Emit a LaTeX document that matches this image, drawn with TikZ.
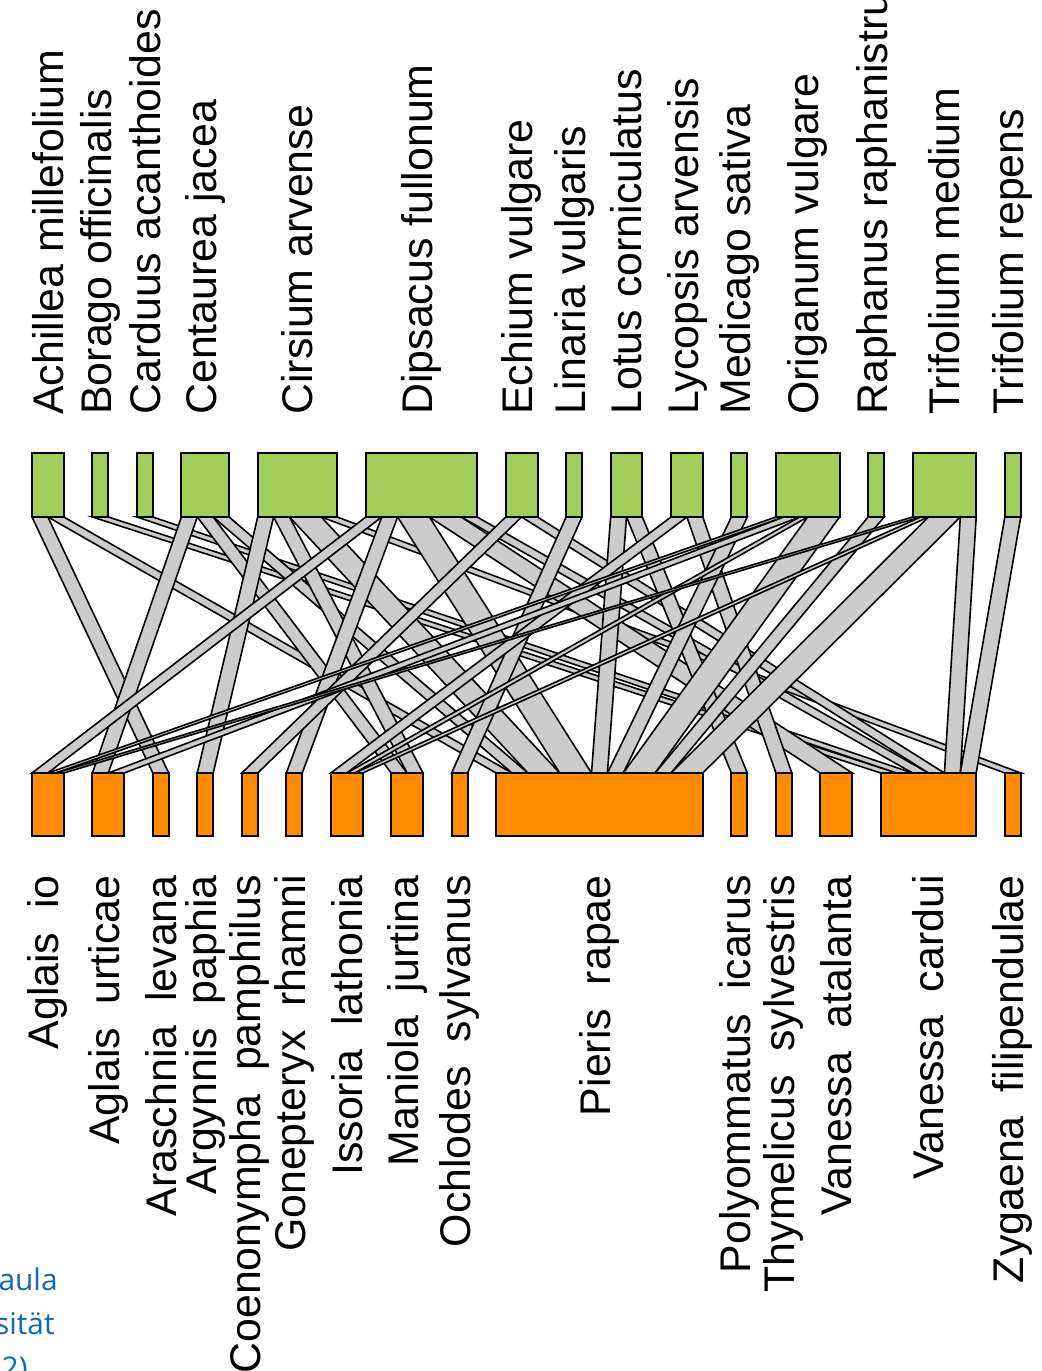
\documentclass[tikz,border=0pt]{standalone}
\usepackage{fontspec}
\setmainfont{Liberation Sans}
\newfontfamily\capfont{Open Sans}
\usetikzlibrary{positioning,calc,backgrounds}

\definecolor{plantgreen}{RGB}{162,205,90}
\definecolor{flyorange}{RGB}{255,140,0}
\definecolor{linkgray}{RGB}{204,204,204}
\definecolor{capblue}{RGB}{16,104,186}

% one interaction unit, in picture units
\newcommand{\hu}{7.95}
% link: plant, start, width, butterfly, start
\newcommand{\lnk}[5]{%
  \filldraw[link] ($(#1.south west)+(#2*\hu,0)$) -- ($(#1.south west)+(#2*\hu+#3*\hu,0)$)
    -- ($(#4.north west)+(#5*\hu+#3*\hu,0)$) -- ($(#4.north west)+(#5*\hu,0)$) -- cycle;}

\begin{document}
\begin{tikzpicture}
  [x=0.2mm, y=-0.2mm, node distance=5.72mm,
    plant/.style={%
      rectangle, draw, fill=plantgreen, line width=0.4mm,
      minimum width=#1*1.59mm, minimum height=12.8mm,
      inner sep=0, outer sep=0
    },
    fly/.style={%
      rectangle, draw, fill=flyorange, line width=0.4mm,
      minimum width=#1*1.59mm, minimum height=12.6mm,
      inner sep=0, outer sep=0
    },
    link/.style={%
      fill=linkgray, draw=black, line width=0.32mm
    },
    plantlab/.style={%
      rotate=90, anchor=west, inner sep=0,
      font=\fontsize{24.4}{29}\selectfont
    },
    flylab/.style={%
      rotate=90, anchor=east, inner sep=0,
      font=\fontsize{24.4}{29}\selectfont
    },
    caption/.style={%
      anchor=base east, inner sep=0, text=capblue,
      font=\capfont\fontsize{17}{20}\selectfont
    },
  ]
  \useasboundingbox (0,0) rectangle (1042,1371);

  % plants
  \node[plant=4, anchor=north west] (achil) at (32,453) {};
  \node[plant=2, right=of achil] (borag) {};
  \node[plant=2, right=of borag] (cardu) {};
  \node[plant=6, right=of cardu] (centa) {};
  \node[plant=10, right=of centa] (cirsi) {};
  \node[plant=14, right=of cirsi] (dipsa) {};
  \node[plant=4, right=of dipsa] (echiu) {};
  \node[plant=2, right=of echiu] (linar) {};
  \node[plant=4, right=of linar] (lotus) {};
  \node[plant=4, right=of lotus] (lycop) {};
  \node[plant=2, right=of lycop] (medic) {};
  \node[plant=8, right=of medic] (origa) {};
  \node[plant=2, right=of origa] (rapha) {};
  \node[plant=8, right=of rapha] (trmed) {};
  \node[plant=2, right=of trmed] (trrep) {};

  % butterflies
  \node[fly=4, anchor=north west] (aglio) at (32,773) {};
  \node[fly=4, right=of aglio] (aglur) {};
  \node[fly=2, right=of aglur] (arasc) {};
  \node[fly=2, right=of arasc] (argyn) {};
  \node[fly=2, right=of argyn] (coeno) {};
  \node[fly=2, right=of coeno] (gonep) {};
  \node[fly=4, right=of gonep] (issor) {};
  \node[fly=4, right=of issor] (manio) {};
  \node[fly=2, right=of manio] (ochlo) {};
  \node[fly=26, right=of ochlo] (pieri) {};
  \node[fly=2, right=of pieri] (polyo) {};
  \node[fly=2, right=of polyo] (thyme) {};
  \node[fly=4, right=of thyme] (vaata) {};
  \node[fly=12, right=of vaata] (vacar) {};
  \node[fly=2, right=of vacar] (zygae) {};

  \begin{scope}[on background layer]
    \fill[white] (0,0) rectangle (1042,1371);
    \lnk{achil}{0}{2}{arasc}{0}
    \lnk{achil}{2}{2}{pieri}{0}
    \lnk{borag}{0}{2}{vacar}{0}
    \lnk{cardu}{0}{2}{vacar}{2}
    \lnk{centa}{0}{2}{aglur}{0}
    \lnk{centa}{2}{2}{manio}{0}
    \lnk{centa}{4}{2}{pieri}{2}
    \lnk{cirsi}{0}{2}{argyn}{0}
    \lnk{cirsi}{2}{2}{manio}{2}
    \lnk{cirsi}{4}{4}{pieri}{4}
    \lnk{cirsi}{8}{2}{zygae}{0}
    \lnk{dipsa}{0}{2}{aglio}{0}
    \lnk{dipsa}{2}{2}{gonep}{0}
    \lnk{dipsa}{4}{4}{pieri}{8}
    \lnk{dipsa}{8}{4}{vaata}{0}
    \lnk{dipsa}{12}{2}{vacar}{4}
    \lnk{echiu}{0}{2}{coeno}{0}
    \lnk{echiu}{2}{2}{vacar}{6}
    \lnk{linar}{0}{2}{ochlo}{0}
    \lnk{lotus}{0}{2}{pieri}{12}
    \lnk{lotus}{2}{2}{polyo}{0}
    \lnk{lycop}{0}{2}{issor}{0}
    \lnk{lycop}{2}{2}{thyme}{0}
    \lnk{medic}{0}{2}{pieri}{14}
    \lnk{origa}{0}{1}{aglio}{2}
    \lnk{origa}{1}{2}{aglur}{2}
    \lnk{origa}{3}{1}{issor}{2}
    \lnk{origa}{4}{4}{pieri}{16}
    \lnk{rapha}{0}{2}{pieri}{20}
    \lnk{trmed}{0}{1}{aglio}{3}
    \lnk{trmed}{1}{1}{issor}{3}
    \lnk{trmed}{2}{4}{pieri}{22}
    \lnk{trmed}{6}{2}{vacar}{8}
    \lnk{trrep}{0}{2}{vacar}{10}
  \end{scope}

  % plant labels
  \node[plantlab] at ($(achil.north)+(0,-38)$) {Achillea millefolium};
  \node[plantlab] at ($(borag.north)+(0,-38)$) {Borago officinalis};
  \node[plantlab] at ($(cardu.north)+(0,-38)$) {Carduus acanthoides};
  \node[plantlab] at ($(centa.north)+(0,-38)$) {Centaurea jacea};
  \node[plantlab] at ($(cirsi.north)+(0,-38)$) {Cirsium arvense};
  \node[plantlab] at ($(dipsa.north)+(0,-38)$) {Dipsacus fullonum};
  \node[plantlab] at ($(echiu.north)+(0,-38)$) {Echium vulgare};
  \node[plantlab] at ($(linar.north)+(0,-38)$) {Linaria vulgaris};
  \node[plantlab] at ($(lotus.north)+(0,-38)$) {Lotus corniculatus};
  \node[plantlab] at ($(lycop.north)+(0,-38)$) {Lycopsis arvensis};
  \node[plantlab] at ($(medic.north)+(0,-38)$) {Medicago sativa};
  \node[plantlab] at ($(origa.north)+(0,-38)$) {Origanum vulgare};
  \node[plantlab] at ($(rapha.north)+(0,-38)$) {Raphanus raphanistrum};
  \node[plantlab] at ($(trmed.north)+(0,-38)$) {Trifolium medium};
  \node[plantlab] at ($(trrep.north)+(0,-38)$) {Trifolium repens};

  % butterfly labels
  \node[flylab] at ($(aglio.south)+(0,39)$) {Aglais~~io};
  \node[flylab] at ($(aglur.south)+(0,39)$) {Aglais~~urticae};
  \node[flylab] at ($(arasc.south)+(0,39)$) {Araschnia~~levana};
  \node[flylab] at ($(argyn.south)+(0,39)$) {Argynnis~~paphia};
  \node[flylab] at ($(coeno.south)+(0,39)$) {Coenonympha~~pamphilus};
  \node[flylab] at ($(gonep.south)+(0,39)$) {Gonepteryx~~rhamni};
  \node[flylab] at ($(issor.south)+(0,39)$) {Issoria~~lathonia};
  \node[flylab] at ($(manio.south)+(0,39)$) {Maniola~~jurtina};
  \node[flylab] at ($(ochlo.south)+(0,39)$) {Ochlodes~~sylvanus};
  \node[flylab] at ($(pieri.south)+(0,39)$) {Pieris~~rapae};
  \node[flylab] at ($(polyo.south)+(0,39)$) {Polyommatus~~icarus};
  \node[flylab] at ($(thyme.south)+(0,39)$) {Thymelicus~~sylvestris};
  \node[flylab] at ($(vaata.south)+(0,39)$) {Vanessa~~atalanta};
  \node[flylab] at ($(vacar.south)+(0,39)$) {Vanessa~~cardui};
  \node[flylab] at ($(zygae.south)+(0,39)$) {Zygaena~~filipendulae};

  % cut caption at the left edge
  \node[caption] (capa) at (58,1290) {aula};
  \node[caption] (capb) at (55,1334) {sität};
  \node[caption] (capc) at (28,1378) {2)};
\end{tikzpicture}
\end{document}
